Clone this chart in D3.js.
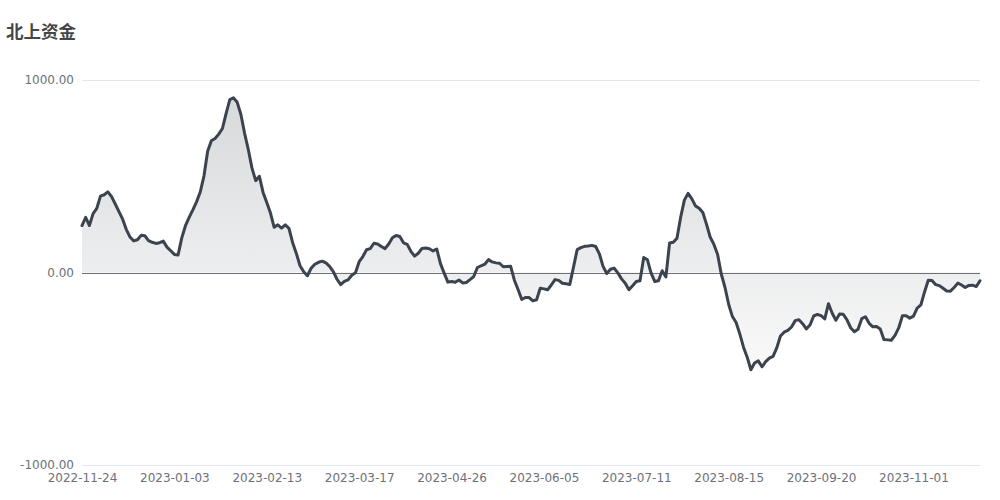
<!DOCTYPE html>
<html>
<head>
<meta charset="utf-8">
<script src="https://cdn.jsdelivr.net/npm/d3@7/dist/d3.min.js"></script>
<style>
  html, body { margin: 0; padding: 0; background: #fff; }
  svg { display: block; }
</style>
</head>
<body>
<div id="chart"></div>
<script>
const title = "北上资金";
const xTickLabels = ["2022-11-24","2023-01-03","2023-02-13","2023-03-17","2023-04-26","2023-06-05","2023-07-11","2023-08-15","2023-09-20","2023-11-01"];
const xTickStep = 25;
const yTicks = [-1000, 0, 1000];
const values = [
  244,287,244,306,333,397,404,419,394,356,
  316,277,223,184,164,170,193,191,166,157,
  151,155,163,132,113,94,91,180,243,286,
  325,367,418,501,630,684,696,719,748,827,
  898,907,884,821,723,639,542,477,500,416,
  364,309,235,248,231,248,229,155,99,35,
  4,-17,22,43,53,59,50,32,5,-35,
  -63,-46,-38,-14,-1,56,83,118,124,152,
  148,135,124,148,180,192,187,154,146,110,
  85,100,125,127,123,112,122,46,-3,-50,
  -47,-51,-39,-54,-52,-37,-21,26,35,43,
  67,55,50,48,30,31,32,-40,-88,-140,
  -130,-130,-147,-142,-82,-85,-90,-65,-37,-41,
  -56,-58,-62,28,119,129,136,138,141,135,
  97,32,-5,17,23,-2,-33,-56,-89,-69,
  -47,-43,78,66,-3,-47,-43,9,-23,153,
  157,178,287,376,411,384,346,334,312,250,
  183,146,94,-9,-78,-166,-229,-260,-319,-388,
  -440,-505,-470,-459,-490,-463,-445,-436,-392,-330,
  -310,-301,-283,-250,-245,-266,-293,-273,-226,-218,
  -224,-241,-162,-212,-248,-216,-217,-246,-287,-308,
  -295,-240,-230,-264,-282,-280,-293,-348,-350,-352,
  -327,-288,-225,-225,-237,-227,-185,-168,-101,-40,
  -42,-63,-68,-82,-96,-97,-78,-55,-65,-78,
  -67,-66,-73,-43
];

const W = 1000, H = 500;

const svg = d3.select("#chart").append("svg")
  .attr("width", W).attr("height", H)
  .style("font-family", "'DejaVu Sans', sans-serif");

const x = d3.scaleLinear().domain([0, values.length - 1]).range([82, 980]);
const y = d3.scaleLinear().domain([-1000, 1000]).range([465, 80]);

// title
svg.append("text")
  .attr("x", 6).attr("y", 38)
  .attr("font-family", "'Noto Sans CJK SC', sans-serif")
  .attr("font-size", 17.5).attr("font-weight", "bold")
  .attr("fill", "#464646")
  .text(title);

// grid lines
svg.append("g").selectAll("line")
  .data(yTicks.filter(d => d !== 0))
  .join("line")
  .attr("x1", 82).attr("x2", 980)
  .attr("y1", d => y(d) + 0.5).attr("y2", d => y(d) + 0.5)
  .attr("stroke", "#e0e6f1").attr("stroke-width", 1);

// y axis labels
const yAxis = d3.axisLeft(y).tickValues(yTicks).tickFormat(d => d.toFixed(2)).tickSize(0).tickPadding(8);
const gy = svg.append("g").attr("transform", "translate(82,0)").call(yAxis);
gy.select(".domain").remove();
gy.selectAll("text").attr("fill", "#6e7079").attr("font-size", 12).attr("font-family", "'DejaVu Sans', sans-serif");

// gradient
const defs = svg.append("defs");
const grad = defs.append("linearGradient").attr("id", "areaGrad")
  .attr("x1", 0).attr("y1", 0).attr("x2", 0).attr("y2", 1);
grad.append("stop").attr("offset", "0%").attr("stop-color", "#3b434e").attr("stop-opacity", 0.2);
grad.append("stop").attr("offset", "100%").attr("stop-color", "#3b434e").attr("stop-opacity", 0.03);

const area = d3.area().x((d, i) => x(i)).y0(y(0)).y1(d => y(d));
svg.append("path").datum(values).attr("d", area).attr("fill", "url(#areaGrad)");

// zero axis line
svg.append("line")
  .attr("x1", 82).attr("x2", 980)
  .attr("y1", Math.round(y(0)) + 0.5).attr("y2", Math.round(y(0)) + 0.5)
  .attr("stroke", "#6e7079").attr("stroke-width", 1);

// line
const line = d3.line().x((d, i) => x(i)).y(d => y(d));
svg.append("path").datum(values).attr("d", line)
  .attr("fill", "none").attr("stroke", "#3b434e")
  .attr("stroke-width", 3).attr("stroke-linejoin", "round").attr("stroke-linecap", "round");

// x axis labels
const xAxis = d3.axisBottom(x)
  .tickValues(xTickLabels.map((d, i) => i * xTickStep))
  .tickFormat((d, i) => xTickLabels[i])
  .tickSize(0).tickPadding(8);
const gx = svg.append("g").attr("transform", "translate(0,465)").call(xAxis);
gx.select(".domain").remove();
gx.selectAll("text").attr("fill", "#6e7079").attr("font-size", 12).attr("font-family", "'DejaVu Sans', sans-serif");
</script>
</body>
</html>
